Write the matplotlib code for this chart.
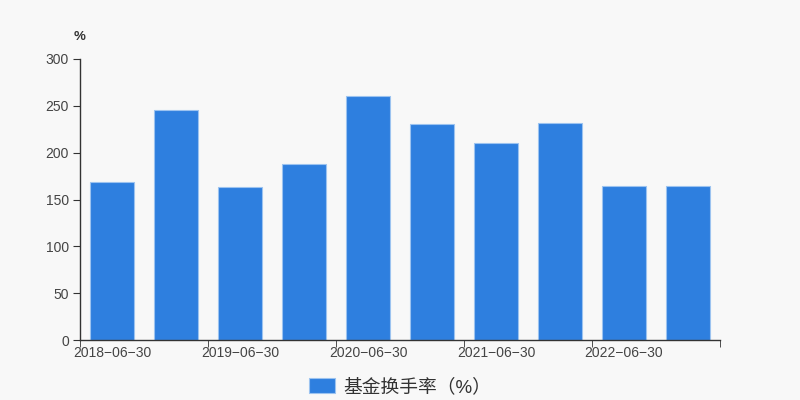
import matplotlib
matplotlib.use('Agg')
import matplotlib.pyplot as plt
import numpy as np

plt.rcParams['font.family'] = ['Liberation Sans', 'Noto Sans CJK SC', 'DejaVu Sans']

dates = ['2018-06-30', '2018-12-31', '2019-06-30', '2019-12-31', '2020-06-30',
         '2020-12-31', '2021-06-30', '2021-12-31', '2022-06-30', '2022-12-31']
turnover = [168.5, 245.5, 163.0, 187.5, 260.5, 230.6, 210.3, 231.3, 164.7, 164.1]
series_name = '基金换手率（%）'

bg = '#f8f8f8'
bar_color = '#2e7fdf'

fig = plt.figure(figsize=(8, 4), dpi=100, facecolor=bg)
ax = fig.add_axes([0.1, 0.15, 0.8, 0.7025], facecolor=bg)

x = np.arange(len(dates))
ax.bar(x, turnover, width=0.7, color=bar_color, edgecolor='#9cc3f0', linewidth=0.8,
       label=series_name)

ax.set_xlim(-0.5, len(dates) - 0.5)
ax.set_ylim(0, 300)
ax.set_yticks(np.arange(0, 301, 50))

# labels at every other category, ticks on category boundaries
ax.set_xticks(x[::2])
ax.set_xticklabels([dates[i].replace('-', '\u2212') for i in x[::2]])
ax.set_xticks(np.append(x[::2] - 0.5, len(dates) - 0.5), minor=True)
ax.tick_params(axis='x', which='major', length=0, pad=4)
ax.tick_params(axis='x', which='minor', length=5, color='#333333')
ax.tick_params(axis='y', length=5, color='#333333', pad=3)
ax.tick_params(labelsize=10, labelcolor='#444444')

for s in ['top', 'right']:
    ax.spines[s].set_visible(False)
for s in ['left', 'bottom']:
    ax.spines[s].set_color('#333333')
    ax.spines[s].set_linewidth(1)

fig.text(0.092, 0.9, '%', fontsize=9.5, color='#333333', fontweight='bold')

fig.legend(loc='lower center', bbox_to_anchor=(0.5, -0.032), frameon=False,
           fontsize=13.5, handlelength=1.4, handleheight=0.8, handletextpad=0.4,
           labelcolor='#333333')

fig.savefig('out.png', dpi=100, facecolor=bg)
